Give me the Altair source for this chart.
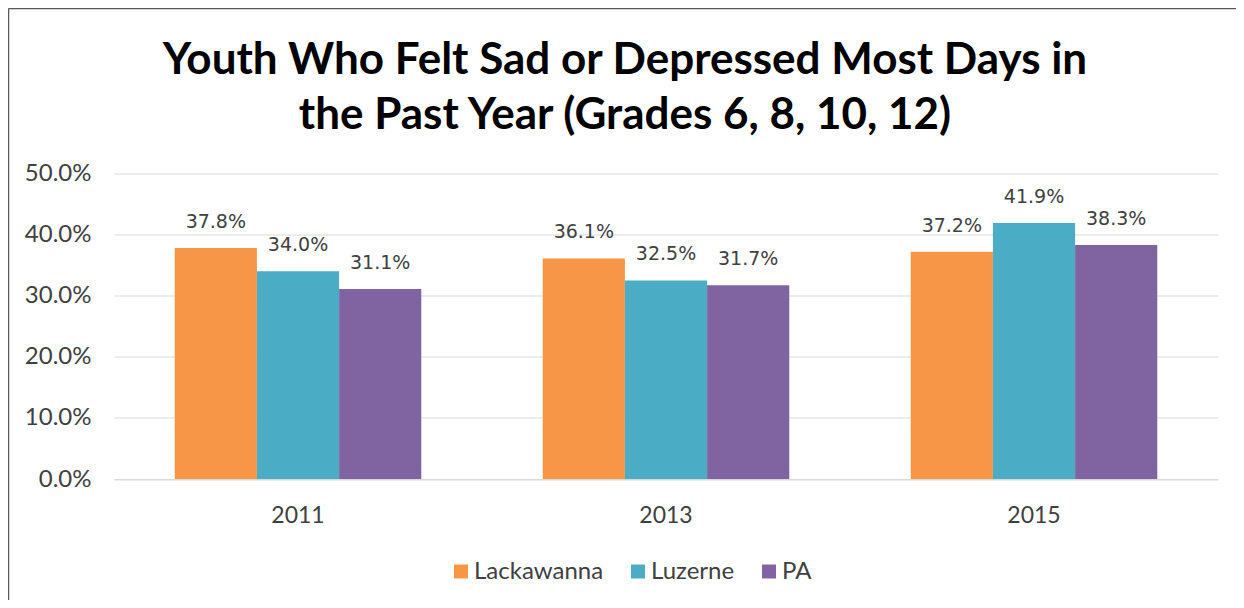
import altair as alt
import pandas as pd

years = ["2011", "2013", "2015"]
regions = ["Lackawanna", "Luzerne", "PA"]
lackawanna = [37.8, 36.1, 37.2]
luzerne = [34.0, 32.5, 41.9]
pa = [31.1, 31.7, 38.3]
colors = ["#F79646", "#4BACC6", "#8064A2"]
y_ticks = [0, 10, 20, 30, 40, 50]
title_lines = ["Youth Who Felt Sad or Depressed Most Days in",
               "the Past Year (Grades 6, 8, 10, 12)"]

rows = []
for i, yr in enumerate(years):
    for r, vals in zip(regions, [lackawanna, luzerne, pa]):
        rows.append({"year": yr, "region": r, "value": vals[i]})
df = pd.DataFrame(rows)

W, H = 1104, 305.5
PAD_L, PAD_T = 106, 165.5

base = alt.Chart(df).encode(
    x=alt.X("year:N", sort=years,
            scale=alt.Scale(paddingInner=0.33, paddingOuter=0.165),
            axis=alt.Axis(title=None, labelAngle=0, ticks=False, domain=True,
                          domainColor="#d9d9d9", domainWidth=1,
                          labelFont="Lato", labelFontSize=23,
                          labelColor="#404040", labelPadding=25)),
    xOffset=alt.XOffset("region:N", sort=regions,
                        scale=alt.Scale(paddingInner=0, paddingOuter=0)),
)

bars = base.mark_bar().encode(
    y=alt.Y("value:Q", scale=alt.Scale(domain=[0, 50]),
            axis=alt.Axis(values=y_ticks, title=None,
                          labelExpr="format(datum.value, '.1f') + '%'",
                          domain=False, ticks=False, grid=True,
                          gridColor="#d9d9d9", gridWidth=1,
                          labelFont="Lato", labelFontSize=24,
                          labelColor="#404040", labelPadding=23)),
    color=alt.Color("region:N", sort=regions,
                    scale=alt.Scale(domain=regions, range=colors),
                    legend=alt.Legend(title=None, orient="none",
                                      legendX=335, legendY=386,
                                      direction="horizontal",
                                      symbolType="square", symbolSize=196,
                                      symbolStrokeWidth=0,
                                      labelFont="Lato", labelFontSize=24,
                                      labelColor="#404040", labelOffset=1,
                                      columnPadding=22)),
)

labels = base.transform_calculate(
    lbl="format(datum.value, '.1f') + '%'"
).mark_text(font="DejaVu Sans", fontSize=19, color="#404040",
            baseline="middle", dy=-26).encode(
    y=alt.Y("value:Q"),
    text="lbl:N",
)

frame_data = alt.Data(values=[{}])
frame_top = alt.Chart(frame_data).mark_rule(color="#595959", strokeWidth=1.5).encode(
    x=alt.value(-PAD_L + 0.5), x2=alt.value(1244 - 114), y=alt.value(-PAD_T + 0.5))
frame_left = alt.Chart(frame_data).mark_rule(color="#595959", strokeWidth=1.5).encode(
    x=alt.value(-PAD_L + 0.5), y=alt.value(-PAD_T + 0.5), y2=alt.value(H + 200))

chart = alt.layer(bars, labels, frame_top, frame_left).properties(
    width=W, height=H,
    title=alt.Title(text=title_lines, font="Lato", fontSize=44, fontWeight="bold",
                    color="#000000", lineHeight=55, anchor="middle", dx=-41,
                    offset=-130),
    padding={"left": PAD_L, "top": PAD_T, "right": 18, "bottom": 121},
    autosize=alt.AutoSizeParams(type="none"),
).configure(background="white").configure_view(stroke=None)

chart.save("out.html", embed_options={"renderer": "svg", "actions": False})
